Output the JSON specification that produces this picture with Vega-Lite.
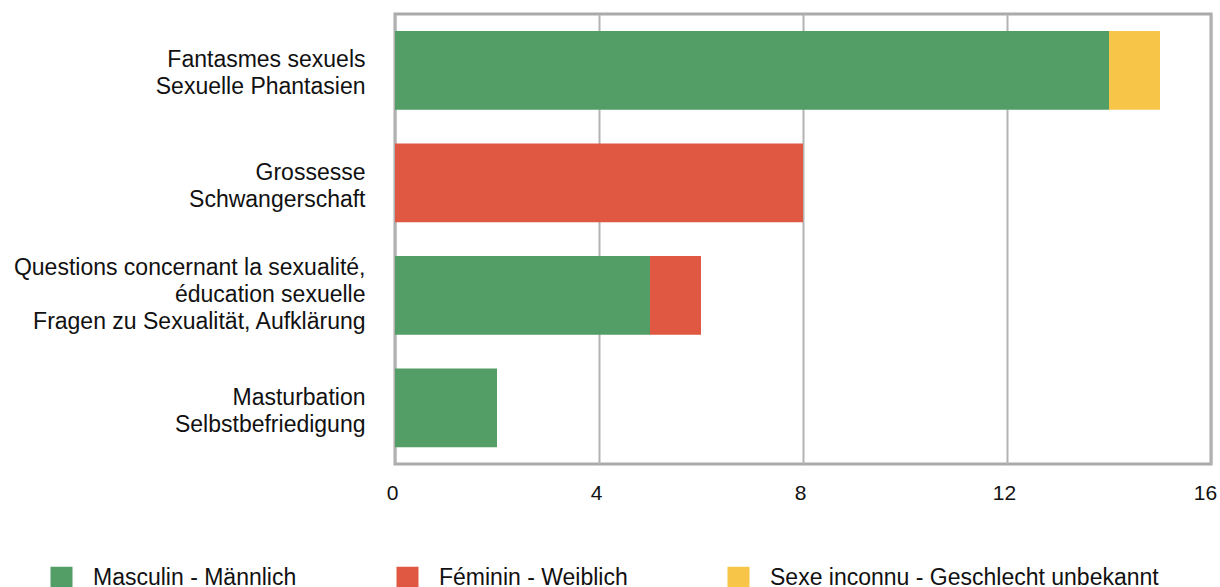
{
  "$schema": "https://vega.github.io/schema/vega-lite/v6.json",
  "width": 816,
  "height": 450,
  "autosize": {"type": "none"},
  "padding": {"left": 395, "top": 14, "right": 9, "bottom": 123},
  "background": "white",
  "config": {
    "font": "Liberation Sans",
    "view": {"stroke": "#aaaaab", "strokeWidth": 3}
  },
  "data": {
    "values": [
      {"theme": "Fantasmes sexuels|Sexuelle Phantasien", "sexe": "Masculin - Männlich", "rang": 1, "n": 14},
      {"theme": "Fantasmes sexuels|Sexuelle Phantasien", "sexe": "Sexe inconnu - Geschlecht unbekannt", "rang": 3, "n": 1},
      {"theme": "Grossesse|Schwangerschaft", "sexe": "Féminin - Weiblich", "rang": 2, "n": 8},
      {"theme": "Questions concernant la sexualité,|éducation sexuelle|Fragen zu Sexualität, Aufklärung", "sexe": "Masculin - Männlich", "rang": 1, "n": 5},
      {"theme": "Questions concernant la sexualité,|éducation sexuelle|Fragen zu Sexualität, Aufklärung", "sexe": "Féminin - Weiblich", "rang": 2, "n": 1},
      {"theme": "Masturbation|Selbstbefriedigung", "sexe": "Masculin - Männlich", "rang": 1, "n": 2}
    ]
  },
  "mark": {"type": "bar"},
  "encoding": {
    "y": {
      "field": "theme",
      "type": "nominal",
      "sort": null,
      "title": null,
      "scale": {"paddingInner": 0.3, "paddingOuter": 0.15},
      "axis": {
        "domain": false,
        "ticks": false,
        "labelExpr": "split(datum.label, '|')",
        "labelFontSize": 23,
        "labelLineHeight": 27,
        "labelColor": "#111",
        "labelPadding": 30,
        "labelLimit": 400,
        "labelAlign": "right",
        "labelBaseline": "middle",
        "labelOffset": {
          "condition": {"test": "indexof(datum.value, 'Questions') === 0", "value": -27},
          "value": -10
        }
      }
    },
    "x": {
      "field": "n",
      "type": "quantitative",
      "stack": "zero",
      "title": null,
      "scale": {"domain": [0, 16], "nice": false},
      "axis": {
        "values": [0, 4, 8, 12, 16],
        "domain": false,
        "ticks": false,
        "grid": true,
        "gridColor": "#b3b3b3",
        "gridWidth": 2,
        "labelFontSize": 21,
        "labelColor": "#111",
        "labelPadding": 18,
        "labelFlush": false,
        "labelOffset": {
          "condition": {"test": "datum.value === 16", "value": -6},
          "value": -3
        }
      }
    },
    "color": {
      "field": "sexe",
      "type": "nominal",
      "title": null,
      "scale": {
        "domain": ["Masculin - Männlich", "Féminin - Weiblich", "Sexe inconnu - Geschlecht unbekannt"],
        "range": ["#529e66", "#e05841", "#f7c548"]
      },
      "legend": {
        "orient": "none",
        "legendX": -345,
        "legendY": 552,
        "direction": "horizontal",
        "columns": 3,
        "columnPadding": 99,
        "symbolType": "square",
        "symbolSize": 484,
        "symbolStrokeWidth": 0,
        "symbolOpacity": 1,
        "labelFontSize": 23,
        "labelColor": "#111",
        "labelOffset": 20,
        "labelLimit": 500
      }
    },
    "order": {"field": "rang", "type": "quantitative"}
  }
}
